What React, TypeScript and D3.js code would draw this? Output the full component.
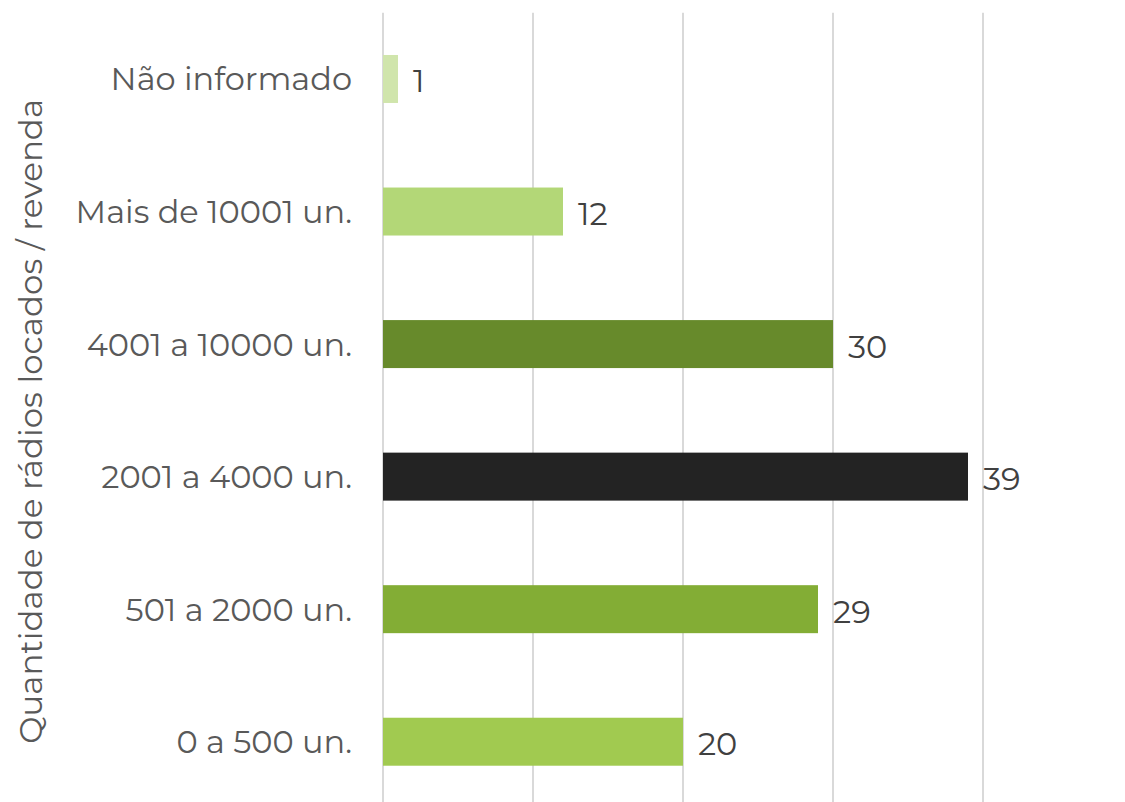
import React from "react";
import * as d3 from "d3";

const categories = [
  "Não informado",
  "Mais de 10001 un.",
  "4001 a 10000 un.",
  "2001 a 4000 un.",
  "501 a 2000 un.",
  "0 a 500 un.",
];
const values = [1, 12, 30, 39, 29, 20];
const colors = ["#d0e5ac", "#b3d777", "#678a2b", "#232323", "#83ad35", "#a1ca50"];
const gridTicks = [0, 10, 20, 30, 40];
const axisTitle = "Quantidade de rádios locados / revenda";

const W = 1125;
const H = 802;
const margin = { left: 383, right: 142, top: 12.7, bottom: -6 };
const FONT = "Montserrat, 'Open Sans', 'Noto Sans', sans-serif";

export default function App() {
  const x = d3.scaleLinear().domain([0, 40]).range([margin.left, W - margin.right]);
  const y = d3
    .scaleBand<string>()
    .domain(categories)
    .range([margin.top, H - margin.bottom])
    .paddingInner(0.638)
    .paddingOuter(0.319);
  const bw = y.bandwidth();
  const midY = (margin.top + H - margin.bottom) / 2;

  return (
    <svg
      width={W}
      height={H}
      style={{ position: "absolute", left: 0, top: 0, background: "#fff" }}
      fontFamily={FONT}
    >
      {gridTicks.map((t) => (
        <line
          key={t}
          x1={x(t)}
          x2={x(t)}
          y1={margin.top}
          y2={H}
          stroke="#d9d9d9"
          strokeWidth={2}
        />
      ))}
      {categories.map((c, i) => (
        <g key={c}>
          <rect
            x={x(0)}
            y={y(c)}
            width={x(values[i]) - x(0)}
            height={bw}
            fill={colors[i]}
          />
          <text
            x={x(0) - 31}
            y={(y(c) as number) + bw / 2}
            textAnchor="end"
            dominantBaseline="central"
            fontSize={32}
            fill="#595959"
          >
            {c}
          </text>
          <text
            x={x(values[i]) + 15}
            y={(y(c) as number) + bw / 2 + 2}
            textAnchor="start"
            dominantBaseline="central"
            fontSize={32}
            fill="#404040"
          >
            {values[i]}
          </text>
        </g>
      ))}
      <text
        transform={`translate(42, ${midY + 11}) rotate(-90)`}
        textAnchor="middle"
        fontSize={32.5}
        fill="#595959"
      >
        {axisTitle}
      </text>
    </svg>
  );
}
